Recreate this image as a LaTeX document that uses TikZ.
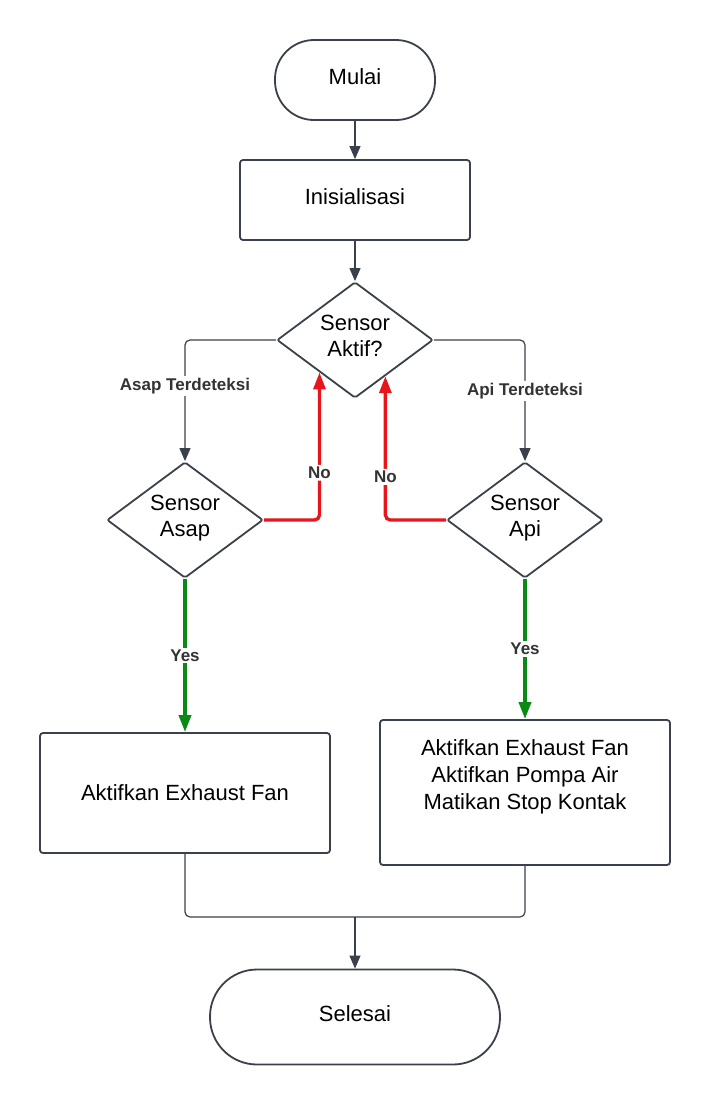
\documentclass[tikz,border=0pt]{standalone}
\usepackage{fontspec}
\setmainfont{Liberation Sans}
\usepackage{tikz}
\usetikzlibrary{shapes.geometric,arrows.meta,calc}
\definecolor{lineGray}{HTML}{3A414A}
\definecolor{txtGray}{HTML}{333333}
\definecolor{noRed}{HTML}{E8161B}
\definecolor{yesGreen}{HTML}{0A8A14}

\begin{document}
\begin{tikzpicture}[x=1pt,y=-1pt]
\tikzstyle{term}=[rectangle, draw=lineGray, line width=1.8pt, align=center,
    font=\fontsize{22}{27}\selectfont, minimum width=160pt, minimum height=80pt,
    text depth=6pt]
\tikzstyle{box}=[rectangle, draw=lineGray, line width=1.8pt, rounded corners=3pt,
    align=center, font=\fontsize{22}{27}\selectfont, minimum width=290pt]
\tikzstyle{dec}=[diamond, draw=lineGray, line width=1.8pt, rounded corners=2pt,
    inner sep=0pt, aspect=1.345, minimum width=156pt, minimum height=116pt,
    align=center, font=\fontsize{22}{26}\selectfont, text depth=8pt]
\tikzstyle{conn}=[draw=lineGray, line width=1.2pt, rounded corners=5pt]
\tikzstyle{arr}=[-{Triangle[length=13pt,width=11pt]}, lineGray]
\tikzstyle{noline}=[draw=noRed, line width=3.3pt, rounded corners=5pt,
    -{Triangle[length=17pt,width=12pt]}]
\tikzstyle{yesline}=[draw=yesGreen, line width=3.6pt,
    -{Triangle[length=17pt,width=12pt]}]
\tikzstyle{lbl}=[fill=white, inner sep=2pt, text=txtGray,
    font=\fontsize{17}{19}\selectfont\bfseries]

\useasboundingbox (0,0) rectangle (711,1106);

\node[term, rounded corners=39pt] (start) at (355,80) {Mulai};
\node[box, minimum width=230pt, minimum height=80pt, text depth=6pt] (init) at (355,200) {Inisialisasi};
\node[dec] (d1) at (355,340) {Sensor\\Aktif?};
\node[dec] (d2) at (185,520) {Sensor\\Asap};
\node[dec] (d3) at (525,520) {Sensor\\Api};
\node[box, minimum height=120pt] (b1) at (185,793) {Aktifkan Exhaust Fan};
\node[box, minimum height=145pt, text depth=36pt] (b2) at (525,792.5)
    {Aktifkan Exhaust Fan\\Aktifkan Pompa Air\\Matikan Stop Kontak};
\node[term, rounded corners=47pt, minimum width=290pt, minimum height=95pt] (end) at (355,1017) {Selesai};

\coordinate (in1) at ($(d1.west)!0.55!(d1.south)$);
\coordinate (in2) at ($(d1.east)!0.615!(d1.south)$);
\coordinate (merge) at (355,917);

\draw[conn,arr] (start) -- (init);
\draw[conn,arr] (init) -- (d1);
\draw[conn,arr] (d1.west) -| node[lbl, pos=0.69] {Asap Terdeteksi} (d2.north);
\draw[conn,arr] (d1.east) -| node[lbl, pos=0.71] {Api Terdeteksi} (d3.north);

\draw[noline] (d2.east) -| node[lbl, pos=0.66] {No} (in1);
\draw[noline] (d3.west) -| node[lbl, pos=0.65] {No} (in2);

\draw[yesline] (d2.south) -- node[lbl] {Yes} (b1.north);
\draw[yesline] (d3.south) -- node[lbl] {Yes} (b2.north);

\draw[conn] (b1.south) |- (merge);
\draw[conn] (b2.south) |- (merge);
\draw[conn,arr] (merge) -- (end.north);
\end{tikzpicture}
\end{document}
